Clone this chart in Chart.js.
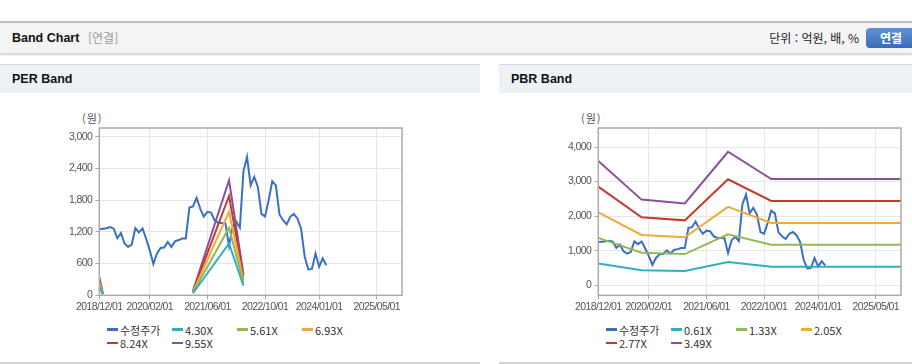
<!DOCTYPE html>
<html lang="ko">
<head>
<meta charset="utf-8">
<script src="https://cdn.jsdelivr.net/npm/chart.js@4"></script>
<style>
  body { margin:0; width:912px; height:364px; background:#fff; position:relative; overflow:hidden;
         font-family:"Noto Sans CJK KR", "Noto Sans", sans-serif; color:#222; }
  .topbar { position:absolute; left:0; top:21px; width:912px; height:30px; background:#f4f4f4;
            border-top:2px solid #bdbdbd; box-shadow:0 2px 2px rgba(0,0,0,0.18); }
  .topbar .ttl { position:absolute; left:12px; top:0; font:bold 12.5px "Liberation Sans", Arial, sans-serif; line-height:30px; color:#111; }
  .topbar .sub { position:absolute; left:88px; top:0; line-height:30px; font-size:12px; color:#999; }
  .topbar .unit { position:absolute; right:53px; top:0; line-height:30px; font-size:12px; color:#222; }
  .topbar .btn { position:absolute; left:866px; top:5px; width:50px; height:20px; border-radius:4px;
                 background:linear-gradient(#5f93d6, #3a6cb2); color:#fff; font-weight:bold; font-size:12px;
                 line-height:20px; text-align:center; }
  .ph { position:absolute; top:64px; height:28px; background:#eef2f7; border-top:1px solid #d6d9dd;
        font:bold 12.5px "Liberation Sans", Arial, sans-serif; line-height:28px; color:#111; }
  .ph span { padding-left:12px; }
  .foot { position:absolute; top:362px; height:2px; background:#d4d4d4; }
  .unitlbl { position:absolute; top:110px; font-size:11px; color:#555; letter-spacing:1px; }
  canvas { position:absolute; }
  .legend { position:absolute; top:323px; display:grid; grid-template-columns:65px 65px 65px 65px;
            grid-auto-rows:13.3px; font-size:11px; color:#333; }
  .legend div { display:flex; align-items:center; white-space:nowrap; }
  .legend i { display:inline-block; width:11px; height:2.5px; margin-right:2px; }
</style>
</head>
<body>
<div class="topbar">
  <div class="ttl">Band Chart</div>
  <div class="sub">[연결]</div>
  <div class="unit">단위 : 억원, 배, %</div>
  <div class="btn">연결</div>
</div>

<div class="ph" style="left:0;width:480px"><span>PER Band</span></div>
<div class="ph" style="left:499px;width:413px"><span>PBR Band</span></div>
<div class="foot" style="left:0;width:480px"></div>
<div class="foot" style="left:499px;width:413px"></div>

<div class="unitlbl" style="left:82px">(원)</div>
<div class="unitlbl" style="left:581px">(원)</div>

<canvas id="perChart" width="480" height="215" style="left:0;top:100px"></canvas>
<canvas id="pbrChart" width="413" height="215" style="left:499px;top:100px"></canvas>
<div class="legend" id="perLegend" style="left:107px"></div>
<div class="legend" id="pbrLegend" style="left:606px"></div>

<script>
// ---- data ----
const tickLabels = ['2018/12/01', '2020/02/01', '2021/06/01', '2022/10/01', '2024/01/01', '2025/05/01'];
const axisStart = '2018/12';
const axisEnd = '2025/12';

const priceDates = [
  '2018/12', '2019/01', '2019/02', '2019/03', '2019/04', '2019/05', '2019/06', '2019/07', '2019/08', '2019/09',
  '2019/10', '2019/11', '2019/12', '2020/01', '2020/02', '2020/03', '2020/04', '2020/05', '2020/06', '2020/07',
  '2020/08', '2020/09', '2020/10', '2020/11', '2020/12', '2021/01', '2021/02', '2021/03', '2021/04', '2021/05',
  '2021/06', '2021/07', '2021/08', '2021/09', '2021/10', '2021/11', '2021/12', '2022/01', '2022/02', '2022/03',
  '2022/04', '2022/05', '2022/06', '2022/07', '2022/08', '2022/09', '2022/10', '2022/11', '2022/12', '2023/01',
  '2023/02', '2023/03', '2023/04', '2023/05', '2023/06', '2023/07', '2023/08', '2023/09', '2023/10', '2023/11',
  '2023/12', '2024/01', '2024/02', '2024/03'
];
const price = [
  1250, 1260, 1270, 1290, 1260, 1080, 1180, 980, 915, 960,
  1270, 1190, 1265, 1070, 850, 590, 790, 895, 905, 1010,
  915, 1020, 1045, 1075, 1075, 1660, 1680, 1845, 1640, 1490,
  1580, 1565, 1420, 1370, 1370, 1360, 930, 1300, 1400, 1280,
  2350, 2620, 2080, 2240, 2050, 1540, 1490, 1800, 2160, 2080,
  1530, 1420, 1340, 1490, 1540, 1450, 1260, 730, 490, 500,
  790, 540, 700, 570
];

// PER band (null = no positive EPS)
const perBandDates = ['2018/12', '2019/01', '2019/02', '2021/02', '2021/12', '2022/04'];
const per430 = [155, 15, null, 39, 980, 181];
const per561 = [202, 20, null, 50, 1279, 236];
const per693 = [249, 24, null, 62, 1580, 291];
const per824 = [297, 29, null, 74, 1879, 346];
const per955 = [344, 33, null, 86, 2177, 401];
const perYTicks = [0, 600, 1200, 1800, 2400, 3000];

// PBR band
const pbrBandDates = ['2018/12', '2019/12', '2020/12', '2021/12', '2022/12', '2025/12'];
const pbr061 = [628, 433, 414, 675, 537, 537];
const pbr133 = [1370, 944, 902, 1472, 1170, 1170];
const pbr205 = [2112, 1456, 1390, 2269, 1804, 1804];
const pbr277 = [2853, 1967, 1878, 3066, 2438, 2438];
const pbr349 = [3595, 2478, 2366, 3863, 3071, 3071];
const pbrYTicks = [0, 1000, 2000, 3000, 4000];

// ---- helpers ----
const C = { price:'#3b6fc4', teal:'#33adc2', green:'#93b955', orange:'#f0aa38', red:'#c23b2c', purple:'#8c4e9c' };

function monthIndex(s) {
  const [y, m] = s.split('/').map(Number);
  const [y0, m0] = axisStart.split('/').map(Number);
  return (y - y0) * 12 + (m - m0);
}
function pts(dates, vals) {
  return dates.map((d, i) => ({ x: monthIndex(d), y: vals[i] }));
}
function line(label, color, data, order) {
  return { label, data, borderColor: color, backgroundColor: color, borderWidth: 2,
           pointRadius: 0, tension: 0, spanGaps: false, order };
}

// tick labels in the original are a narrow font; tighten spacing a bit
const tightText = {
  id: 'tightText',
  beforeLayout(chart) { chart.ctx.letterSpacing = '-0.6px'; },
  beforeDraw(chart) { chart.ctx.letterSpacing = '-0.6px'; }
};

const framePlugin = {
  id: 'frame',
  afterDatasetsDraw(chart) {
    const { ctx, chartArea: a } = chart;
    ctx.save();
    ctx.strokeStyle = '#ababab';
    ctx.lineWidth = 1.5;
    ctx.strokeRect(a.left, a.top, a.right - a.left, a.bottom - a.top);
    ctx.restore();
  }
};

const tickFont = { family: '"Liberation Sans", Arial, sans-serif', size: 10.5 };

function makeChart(id, datasets, yMin, yMax, yTicks, rightPad) {
  return new Chart(document.getElementById(id), {
    type: 'line',
    data: { datasets },
    options: {
      responsive: false,
      animation: false,
      layout: { padding: { top: 28, right: rightPad, bottom: 0, left: 0 } },
      plugins: { legend: { display: false }, tooltip: { enabled: false } },
      scales: {
        x: {
          type: 'linear',
          min: 0,
          max: monthIndex(axisEnd),
          afterBuildTicks: s => { s.ticks = tickLabels.map(t => ({ value: monthIndex(t.slice(0, 7)) })); },
          afterFit: s => { s.height = 19.7; },
          ticks: {
            autoSkip: false, maxRotation: 0, padding: 2, color: '#555', font: tickFont,
            callback: v => tickLabels.find(t => monthIndex(t.slice(0, 7)) === v)
          },
          grid: { color: '#e6e6e6', tickColor: '#aaa', tickLength: 4 },
          border: { display: false }
        },
        y: {
          min: yMin,
          max: yMax,
          afterBuildTicks: s => { s.ticks = yTicks.map(v => ({ value: v })); },
          afterFit: s => { s.width = 99.3; },
          ticks: { padding: 3, color: '#555', font: tickFont, callback: v => v.toLocaleString('en-US') },
          grid: { color: '#e6e6e6', tickColor: '#aaa', tickLength: 4 },
          border: { display: false }
        }
      }
    },
    plugins: [tightText, framePlugin]
  });
}

function buildLegend(chart, id) {
  document.getElementById(id).innerHTML = chart.data.datasets.map(d =>
    `<div><i style="background:${d.borderColor}"></i>${d.label}</div>`).join('');
}

const perChart = makeChart('perChart', [
  line('수정주가', C.price, pts(priceDates, price), 1),
  line('4.30X', C.teal, pts(perBandDates, per430), 0),
  line('5.61X', C.green, pts(perBandDates, per561), 0),
  line('6.93X', C.orange, pts(perBandDates, per693), 0),
  line('8.24X', C.red, pts(perBandDates, per824), 0),
  line('9.55X', C.purple, pts(perBandDates, per955), 0)
], 0, 3165, perYTicks, 78);

const pbrChart = makeChart('pbrChart', [
  line('수정주가', C.price, pts(priceDates, price), 1),
  line('0.61X', C.teal, pts(pbrBandDates, pbr061), 0),
  line('1.33X', C.green, pts(pbrBandDates, pbr133), 0),
  line('2.05X', C.orange, pts(pbrBandDates, pbr205), 0),
  line('2.77X', C.red, pts(pbrBandDates, pbr277), 0),
  line('3.49X', C.purple, pts(pbrBandDates, pbr349), 0)
], -290, 4550, pbrYTicks, 11);

buildLegend(perChart, 'perLegend');
buildLegend(pbrChart, 'pbrLegend');
</script>
</body>
</html>
